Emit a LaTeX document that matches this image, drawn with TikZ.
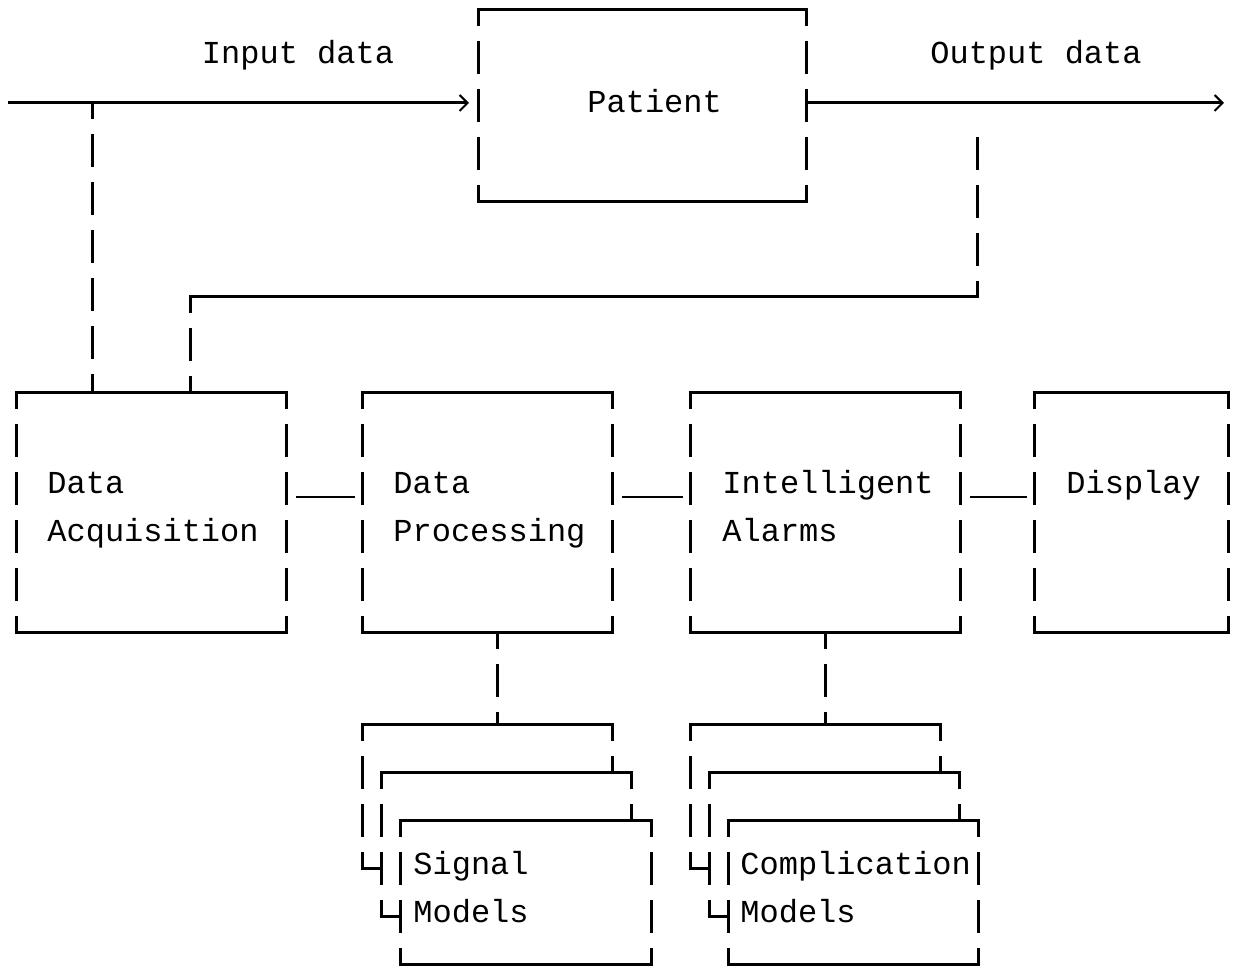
\documentclass[tikz,border=0pt]{standalone}
\usepackage{fontspec}
\newfontfamily\plotfont{Liberation Mono}
\usetikzlibrary{arrows.meta}
\usetikzlibrary{positioning}

\tikzset{
  boxedge/.style={line width=1.5pt, line cap=rect},
  boxside/.style={line width=1.5pt, dash pattern=on 16.5pt off 7.5pt, dash phase=8.25pt},
  plotbox/.style 2 args={rectangle, anchor=north west, inner sep=0pt, outer sep=0pt,
    minimum width=#1*0.5pt, minimum height=#2*0.5pt,
    append after command={
      (\tikzlastnode.north west) edge[boxedge] (\tikzlastnode.north east)
      (\tikzlastnode.south west) edge[boxedge] (\tikzlastnode.south east)
      (\tikzlastnode.north west) edge[boxside] (\tikzlastnode.south west)
      (\tikzlastnode.north east) edge[boxside] (\tikzlastnode.south east)}},
  boxtext/.style={font=\plotfont\fontsize{16}{24}\selectfont, align=left, anchor=base west, inner sep=0pt},
  link/.style={line width=1pt, shorten <=5pt, shorten >=3.5pt},
  flow/.style={line width=1.5pt, -{Straight Barb[length=4pt,width=8pt,line width=1pt]}}
}

\begin{document}
\begin{tikzpicture}[x=0.5pt, y=-0.5pt]
  \useasboundingbox (0,0) rectangle (1250,967);

  % patient and the four stages
  \node[plotbox={328}{192}] (patient) at (478,10) {};
  \node[plotbox={270}{240}] (acq) at (16,393) {};
  \node[plotbox={250}{240}] (proc) at (362,393) {};
  \node[plotbox={270}{240}] (alarm) at (690,393) {};
  \node[plotbox={194}{240}] (disp) at (1034,393) {};

  % base of a two line text is its last line
  \node[boxtext] (patientTxt) at ([shift={(109,103)}]patient.north west) {Patient};
  \node[boxtext] (acqTxt) at ([shift={(31,149)}]acq.north west) {Data\\Acquisition};
  \node[boxtext] (procTxt) at ([shift={(31,149)}]proc.north west) {Data\\Processing};
  \node[boxtext] (alarmTxt) at ([shift={(32,149)}]alarm.north west) {Intelligent\\Alarms};
  \node[boxtext] (dispTxt) at ([shift={(32,101)}]disp.north west) {Display};

  % input and output
  \node[boxtext, anchor=base] (inTxt) at (298,64) {Input data};
  \node[boxtext, anchor=base] (outTxt) at (1036,64) {Output data};
  \coordinate (inStart) at (8,103);
  \coordinate (outEnd) at (1224,103);
  \draw[flow, shorten >=4.5pt] (inStart) -- (inStart -| patient.west);
  \draw[flow] (outEnd -| patient.east) -- (outEnd);

  \coordinate (acqTap) at (92,103);
  \draw[boxside] (acqTap) -- (acqTap |- acq.north);

  % feedback from output
  \coordinate (fbTop) at (977,137);
  \coordinate (fbTurn) at (977,297);
  \coordinate (fbDrop) at (190,297);
  \draw[boxside, dash phase=0pt] (fbTop) -- (fbTurn);
  \draw[boxedge] (fbTurn) -- (fbDrop);
  \draw[boxside] (fbDrop) -- (fbDrop |- acq.north);

  \draw[link] ([yshift=8pt]acq.east) -- ([yshift=8pt]proc.west);
  \draw[link] ([yshift=8pt]proc.east) -- ([yshift=8pt]alarm.west);
  \draw[link] ([yshift=8pt]alarm.east) -- ([yshift=8pt]disp.west);

  % model stacks
  \node[plotbox={250}{144}, fill=white] (sig1) at (362,725) {};
  \node[plotbox={250}{144}, fill=white] (sig2) at (381,773) {};
  \node[plotbox={251}{144}, fill=white] (sig3) at (400,821) {};
  \node[boxtext] (sigTxt) at ([shift={(13,102)}]sig3.north west) {Signal\\Models};
  \draw[boxside] ([xshift=5pt]proc.south) -- ([xshift=5pt]proc.south |- sig1.north);

  \node[plotbox={250}{144}, fill=white] (comp1) at (690,725) {};
  \node[plotbox={250}{144}, fill=white] (comp2) at (709,773) {};
  \node[plotbox={250}{144}, fill=white] (comp3) at (728,821) {};
  \node[boxtext] (compTxt) at ([shift={(12,102)}]comp3.north west) {Complication\\Models};
  \draw[boxside] (alarm.south) -- (alarm.south |- comp1.north);
\end{tikzpicture}
\end{document}
